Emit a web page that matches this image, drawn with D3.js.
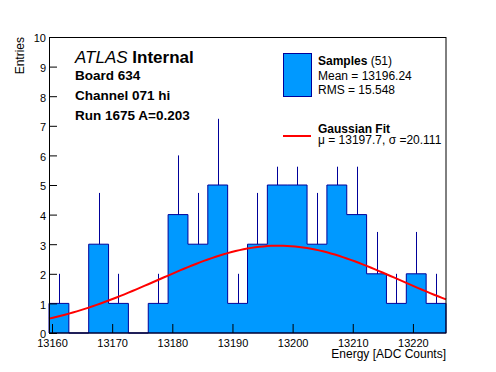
<!DOCTYPE html>
<html><head><meta charset="utf-8">
<script src="https://cdn.jsdelivr.net/npm/d3@7"></script>
<style>body{margin:0;background:#fff}svg{display:block;font-family:"Liberation Sans",Arial,Helvetica,sans-serif}</style>
</head><body>
<script>
// ---- data ----
const binRange = [13159.5, 13225.5];
const counts = [1,0,3,1,0,1,4,3,5,1,3,5,5,3,5,4,2,1,2,1];
const xTicks = [13160,13170,13180,13190,13200,13210,13220];
const yTicks = [0,1,2,3,4,5,6,7,8,9,10];
const fitMu = 13197.7, fitSigma = 20.111, fitAmp = 2.95;
const infoLines = ["Board 634","Channel 071 hi","Run 1675 A=0.203"];
const legendStats = ["Mean = 13196.24","RMS = 15.548"];

const W=496,H=372;
const svg=d3.select("body").append("svg").attr("width",W).attr("height",H);
const x=d3.scaleLinear().domain(binRange).range([49,446]);
const y=d3.scaleLinear().domain([0,10]).range([333,37]);
const bw=(binRange[1]-binRange[0])/counts.length;
const bins=counts.map((c,i)=>({lo:binRange[0]+i*bw,hi:binRange[0]+(i+1)*bw,c}));

const fill="#0099ff", navy="#000099";
// histogram step path
let pts=[[x(binRange[0]),y(0)]];
bins.forEach(b=>{pts.push([x(b.lo),y(b.c)]);pts.push([x(b.hi),y(b.c)]);});
pts.push([x(binRange[1]),y(0)]);
svg.append("path").attr("d",d3.line()(pts)+"Z").attr("fill",fill).attr("stroke",navy).attr("stroke-width",1);
// error bars (upper part visible)
bins.filter(b=>b.c>0).forEach(b=>{
  const cx=Math.round(x((b.lo+b.hi)/2))+0.5;
  svg.append("line").attr("x1",cx).attr("x2",cx).attr("y1",y(b.c)).attr("y2",y(b.c+Math.sqrt(b.c))).attr("stroke",navy).attr("stroke-width",1);
});
// gaussian fit
const xs=d3.range(0,101).map(i=>binRange[0]+i*(binRange[1]-binRange[0])/100);
svg.append("path").attr("d",d3.line().x(v=>x(v)).y(v=>y(fitAmp*Math.exp(-0.5*Math.pow((v-fitMu)/fitSigma,2))))(xs))
  .attr("fill","none").attr("stroke","#ff0000").attr("stroke-width",2);

// legend background
svg.append("rect").attr("x",268).attr("y",44).attr("width",177).attr("height",122.7).attr("fill","#fff");

// frame
svg.append("rect").attr("x",49.5).attr("y",37.5).attr("width",396.5).attr("height",295.5).attr("fill","none").attr("stroke","#000").attr("stroke-width",1);

// axes
const gx=svg.append("g").attr("transform","translate(0,333)");
gx.call(d3.axisBottom(x).tickValues(d3.range(13160,13226,2)).tickSize(-4.5).tickFormat("")).call(g=>g.select(".domain").remove());
gx.call(d3.axisBottom(x).tickValues(xTicks).tickSize(-9).tickFormat(d3.format("d"))).call(g=>g.select(".domain").remove());
gx.selectAll("text").attr("y",0).attr("dy","13.5px").attr("font-size","11px").attr("font-family","Liberation Sans, Arial").attr("fill","#000");
const gy=svg.append("g").attr("transform","translate(49,0)");
gy.call(d3.axisLeft(y).tickValues(d3.range(0,10.01,0.2)).tickSize(-4).tickFormat("")).call(g=>g.select(".domain").remove());
gy.call(d3.axisLeft(y).tickValues(yTicks).tickSize(-8).tickFormat(d3.format("d"))).call(g=>g.select(".domain").remove());
gy.selectAll("text").attr("x",-3).attr("dy","0.45em").attr("font-size","11px").attr("font-family","Liberation Sans, Arial").attr("fill","#000");
svg.selectAll(".tick line").attr("stroke","#000");

// axis titles
svg.append("text").attr("x",446).attr("y",358).attr("text-anchor","end").attr("font-size","12px").text("Energy [ADC Counts]");
svg.append("text").attr("transform","translate(23.5,37) rotate(-90)").attr("text-anchor","end").attr("font-size","12px").text("Entries");

// ATLAS label
const t=svg.append("text").attr("x",75).attr("y",62.5).attr("font-size","17px");
t.append("tspan").attr("font-style","italic").text("ATLAS");
t.append("tspan").attr("font-weight","bold").text(" Internal");
infoLines.forEach((s,i)=>svg.append("text").attr("x",75).attr("y",80+i*20).attr("font-size","13.5px").attr("font-weight","bold").text(s));

// legend
svg.append("rect").attr("x",283.5).attr("y",53.5).attr("width",28).attr("height",43).attr("fill",fill).attr("stroke",navy);
const ls=svg.append("text").attr("x",318).attr("y",65).attr("font-size","12px");
ls.append("tspan").attr("font-weight","bold").text("Samples");
ls.append("tspan").text(" (51)");
legendStats.forEach((s,i)=>svg.append("text").attr("x",318).attr("y",79.5+i*14).attr("font-size","12px").text(s));
svg.append("line").attr("x1",283).attr("x2",311).attr("y1",136).attr("y2",136).attr("stroke","#ff0000").attr("stroke-width",2);
svg.append("text").attr("x",318).attr("y",132.5).attr("font-size","12px").attr("font-weight","bold").text("Gaussian Fit");
svg.append("text").attr("x",318).attr("y",144).attr("font-size","12px").text("\u03bc = 13197.7, \u03c3 =20.111");
</script>
</body></html>
